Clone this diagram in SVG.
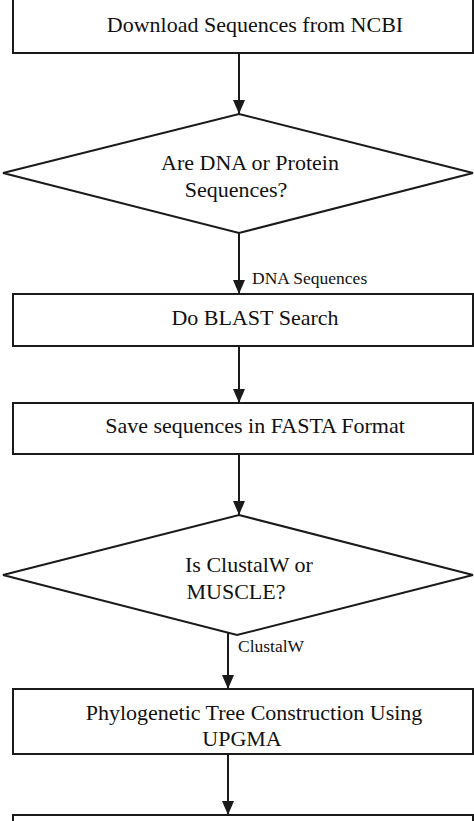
<svg xmlns="http://www.w3.org/2000/svg" width="474" height="821" viewBox="0 0 474 821">
  <style>
    .box { fill: #fff; stroke: #1a1a1a; stroke-width: 2; }
    .t { font-family: "Liberation Serif", "Times New Roman", serif; font-size: 22px; fill: #111; text-anchor: middle; }
    .lbl { font-family: "Liberation Serif", "Times New Roman", serif; font-size: 17.5px; fill: #111; }
    .conn { stroke: #1a1a1a; stroke-width: 2; fill: none; marker-end: url(#arrow); }
  </style>
  <defs>
    <marker id="arrow" viewBox="0 0 14 12" refX="14" refY="6" markerWidth="14" markerHeight="12" markerUnits="userSpaceOnUse" orient="auto">
      <path d="M0,0 L14,6 L0,12 z" fill="#1a1a1a"/>
    </marker>
  </defs>
  <rect width="474" height="821" fill="#fff"/>

  <g id="connectors">
    <line class="conn" x1="239" y1="53" x2="239" y2="114"/>
    <line class="conn" x1="239" y1="233" x2="239" y2="294"/>
    <line class="conn" x1="239" y1="346" x2="239" y2="403"/>
    <line class="conn" x1="239" y1="454" x2="239" y2="515"/>
    <line class="conn" x1="228" y1="628" x2="228" y2="689"/>
    <line class="conn" x1="228" y1="754" x2="228" y2="815"/>
    <text class="lbl" x="252" y="284">DNA Sequences</text>
    <text class="lbl" x="238" y="652">ClustalW</text>
  </g>

  <g id="download">
    <rect class="box" x="13" y="-2" width="460" height="55"/>
    <text class="t" x="255" y="32">Download Sequences from NCBI</text>
  </g>

  <g id="decision-type">
    <polygon class="box" points="239,114 473,173 239,233 3,173"/>
    <text class="t" x="250" y="170">Are DNA or Protein</text>
    <text class="t" x="236" y="197">Sequences?</text>
  </g>

  <g id="blast">
    <rect class="box" x="13" y="294" width="460" height="52"/>
    <text class="t" x="255" y="325">Do BLAST Search</text>
  </g>

  <g id="fasta">
    <rect class="box" x="13" y="403" width="460" height="51"/>
    <text class="t" x="255" y="433">Save sequences in FASTA Format</text>
  </g>

  <g id="decision-align">
    <polygon class="box" points="239,515 473,575 237,635 3,575"/>
    <text class="t" x="249" y="572">Is ClustalW or</text>
    <text class="t" x="236" y="599">MUSCLE?</text>
  </g>

  <g id="upgma">
    <rect class="box" x="13" y="689" width="460" height="65"/>
    <text class="t" x="254" y="720">Phylogenetic Tree Construction Using</text>
    <text class="t" x="242" y="746">UPGMA</text>
  </g>

  <g id="next-step">
    <rect class="box" x="13" y="815" width="460" height="20"/>
  </g>
</svg>
